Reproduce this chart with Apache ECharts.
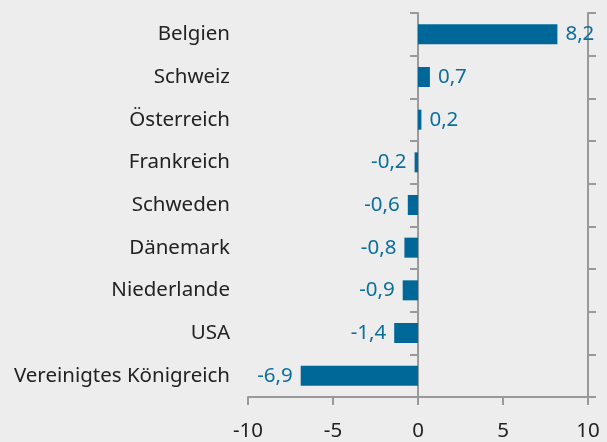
<!DOCTYPE html>
<html>
<head>
<meta charset="utf-8">
<script src="https://cdn.jsdelivr.net/npm/echarts@6/dist/echarts.min.js"></script>
<style>
html, body { margin: 0; padding: 0; background: #ededed; }
#chart { width: 607px; height: 442px; }
</style>
</head>
<body>
<div id="chart"></div>
<script>
var countries = ['Belgien', 'Schweiz', 'Österreich', 'Frankreich', 'Schweden', 'Dänemark', 'Niederlande', 'USA', 'Vereinigtes Königreich'];
var values = [8.2, 0.7, 0.2, -0.2, -0.6, -0.8, -0.9, -1.4, -6.9];
var xTicks = [-10, -5, 0, 5, 10];

var myChart = echarts.init(document.getElementById('chart'));
var font = 'Noto Sans';
var fs = 20.5;
var barData = values.map(function (v) {
    return {
        value: v,
        label: { position: v >= 0 ? 'right' : 'left' }
    };
});
// zero line with ticks on both sides
var zeroAxis = function (pos) {
    return {
        type: 'category',
        data: countries,
        inverse: true,
        position: pos,
        axisLine: { show: true, onZero: true, lineStyle: { color: '#999', width: 2 } },
        axisTick: { show: true, length: 8, lineStyle: { color: '#999', width: 2 } },
        axisLabel: { show: false }
    };
};
var option = {
    backgroundColor: '#ededed',
    animation: false,
    grid: { left: 248, right: 19, top: 13, bottom: 45 },
    xAxis: {
        type: 'value',
        min: xTicks[0],
        max: xTicks[xTicks.length - 1],
        interval: 5,
        splitLine: { show: false },
        axisLine: { show: true, onZero: false, lineStyle: { color: '#999', width: 2 } },
        axisTick: { show: true, length: 8, lineStyle: { color: '#999', width: 2 } },
        axisLabel: { color: '#222', fontSize: fs, fontFamily: font, margin: 24 }
    },
    yAxis: [{
        type: 'category',
        data: countries,
        inverse: true,
        axisLine: { show: false, onZero: false },
        axisTick: { show: false },
        axisLabel: { color: '#222', fontSize: fs, fontFamily: font, margin: 18 }
    }, zeroAxis('left'), zeroAxis('right')],
    series: [{
        type: 'bar',
        data: barData,
        barWidth: 20,
        itemStyle: { color: '#006898' },
        label: {
            show: true,
            distance: 8,
            color: '#0b6e9c',
            fontSize: fs,
            fontFamily: font,
            formatter: function (p) { return String(p.value).replace('.', ','); }
        }
    }]
};
myChart.setOption(option);
</script>
</body>
</html>
